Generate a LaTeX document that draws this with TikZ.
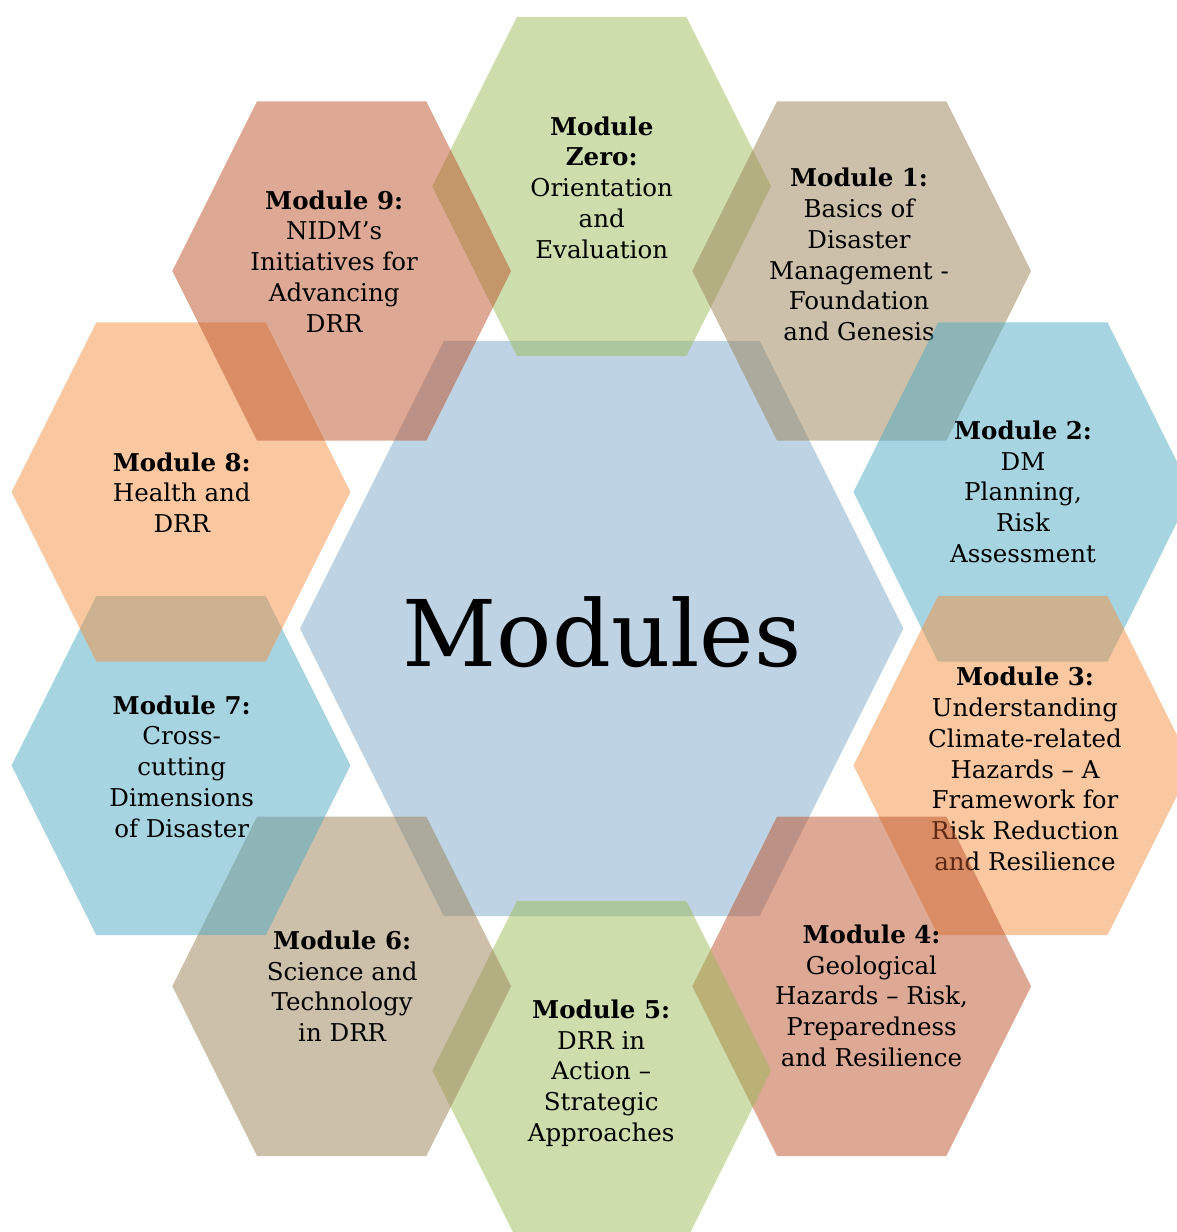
\documentclass[tikz,border=0pt]{standalone}
\usepackage{fontspec}
\setmainfont{DejaVu Serif}
\definecolor{cGreen}{RGB}{155,187,89}
\definecolor{cTan}{RGB}{155,130,86}
\definecolor{cSalmon}{RGB}{187,82,42}
\definecolor{cBlue}{RGB}{77,169,196}
\definecolor{cPeach}{RGB}{245,146,66}
\definecolor{cCenter}{RGB}{125,168,200}
\newcommand{\hexa}[6]{%
  \fill[#6, hexfill] ({#1-#3},{#2}) -- ({#1-#5},{#2-#4}) -- ({#1+#5},{#2-#4})
    -- ({#1+#3},{#2}) -- ({#1+#5},{#2+#4}) -- ({#1-#5},{#2+#4}) -- cycle;}
\newcommand{\smallhex}[3]{\hexa{#1}{#2}{169.4}{169.7}{84.65}{#3}}
\tikzset{
  hexfill/.style={fill opacity=0.5},
  modtext/.style={font=\fontsize{24.5}{30.8}\selectfont, anchor=base, inner sep=0pt, text=black},
  bigtext/.style={font=\fontsize{92}{110}\selectfont, anchor=base, inner sep=0pt, text=black}
}
\begin{document}
\begin{tikzpicture}[x=1pt, y=-1pt]
\clip (0,0) rectangle (1177,1232);
% centre
\hexa{601.7}{628.5}{301.7}{287.6}{157.9}{cCenter}
\node[bigtext] (title) at (602,666) {Modules};
% Module Zero
\smallhex{601.7}{186.5}{cGreen}
\node[modtext] (m0) at (601.7,135) {\begin{tabular}[t]{@{}c@{}}\textbf{Module}\\\textbf{Zero:}\\Orientation\\and\\Evaluation\end{tabular}};
% Module 1
\smallhex{861.7}{271}{cTan}
\node[modtext] (m1) at (859,186.7) {\begin{tabular}[t]{@{}c@{}}\textbf{Module 1:}\\Basics of\\Disaster\\Management -\\Foundation\\and Genesis\end{tabular}};
% Module 2
\smallhex{1022.8}{492}{cBlue}
\node[modtext] (m2) at (1023,439.3) {\begin{tabular}[t]{@{}c@{}}\textbf{Module 2:}\\DM\\Planning,\\Risk\\Assessment\end{tabular}};
% Module 3
\smallhex{1022.8}{765.5}{cPeach}
\node[modtext] (m3) at (1025,685.7) {\begin{tabular}[t]{@{}c@{}}\textbf{Module 3:}\\Understanding\\Climate-related\\Hazards \textendash\ A\\Framework for\\Risk Reduction\\and Resilience\end{tabular}};
% Module 4
\smallhex{861.7}{986.3}{cSalmon}
\node[modtext] (m4) at (871.5,943.3) {\begin{tabular}[t]{@{}c@{}}\textbf{Module 4:}\\Geological\\Hazards \textendash\ Risk,\\Preparedness\\and Resilience\end{tabular}};
% Module 5
\smallhex{601.7}{1070.5}{cGreen}
\node[modtext] (m5) at (601.2,1018.3) {\begin{tabular}[t]{@{}c@{}}\textbf{Module 5:}\\DRR in\\Action \textendash\\Strategic\\Approaches\end{tabular}};
% Module 6
\smallhex{341.7}{986.3}{cTan}
\node[modtext] (m6) at (342.2,949.3) {\begin{tabular}[t]{@{}c@{}}\textbf{Module 6:}\\Science and\\Technology\\in DRR\end{tabular}};
% Module 7
\smallhex{181}{765.5}{cBlue}
\node[modtext] (m7) at (181.7,714) {\begin{tabular}[t]{@{}c@{}}\textbf{Module 7:}\\Cross-\\cutting\\Dimensions\\of Disaster\end{tabular}};
% Module 8
\smallhex{181}{492}{cPeach}
\node[modtext] (m8) at (181.8,471) {\begin{tabular}[t]{@{}c@{}}\textbf{Module 8:}\\Health and\\DRR\end{tabular}};
% Module 9
\smallhex{341.7}{271}{cSalmon}
\node[modtext] (m9) at (334.2,209) {\begin{tabular}[t]{@{}c@{}}\textbf{Module 9:}\\NIDM\textquoteright s\\Initiatives for\\Advancing\\DRR\end{tabular}};
\end{tikzpicture}
\end{document}
